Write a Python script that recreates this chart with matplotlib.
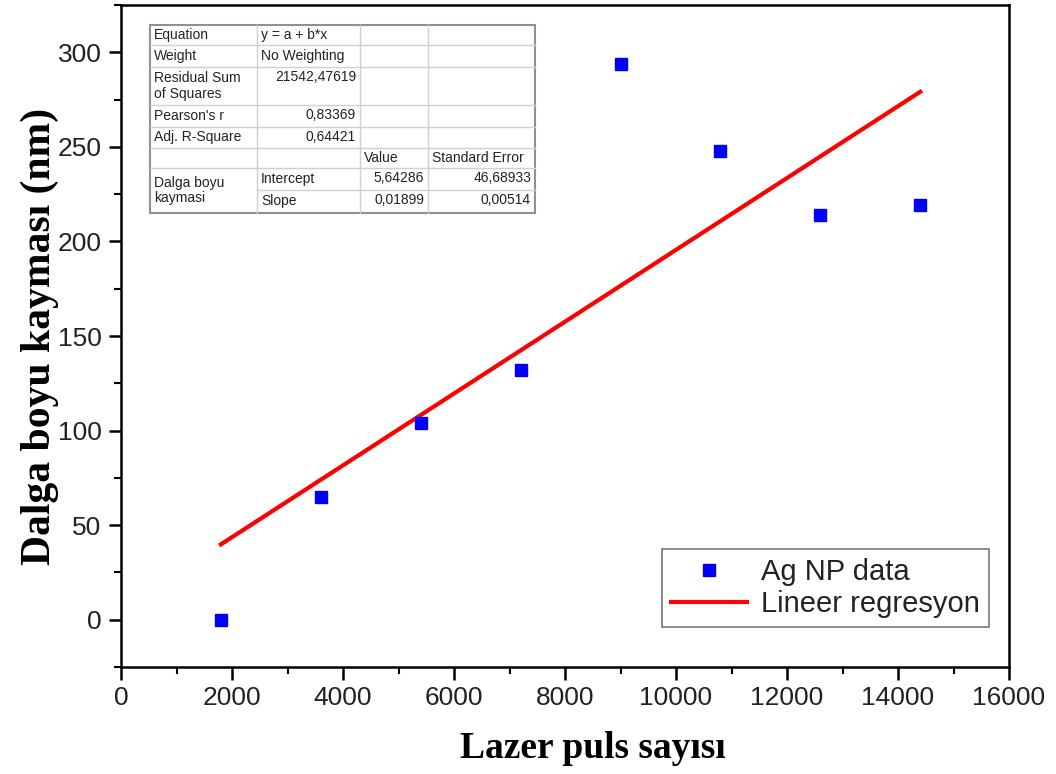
import numpy as np
import matplotlib
matplotlib.use('Agg')
import matplotlib.pyplot as plt
from matplotlib.lines import Line2D
from matplotlib.ticker import MultipleLocator

# data
pulses = [1800, 3600, 5400, 7200, 9000, 10800, 12600, 14400]
shift = [0, 65, 104, 132, 294, 248, 214, 219]
intercept = 5.64286
slope = 0.01899

# fit table (Origin style)
table_rows = [
    ["Equation", "y = a + b*x", "", ""],
    ["Weight", "No Weighting", "", ""],
    ["Residual Sum\nof Squares", "21542,47619", "", ""],
    ["Pearson's r", "0,83369", "", ""],
    ["Adj. R-Square", "0,64421", "", ""],
    ["", "", "Value", "Standard Error"],
    ["Dalga boyu\nkaymasi", "Intercept", "5,64286", "46,68933"],
    ["", "Slope", "0,01899", "0,00514"],
]

W, H = 1056, 774
fig = plt.figure(figsize=(W / 100, H / 100), dpi=100)
ax = fig.add_axes([121 / W, 1 - 667 / H, (1009 - 121) / W, (667 - 5) / H])

ax.plot(pulses, shift, 's', color='#0000ff', markersize=8.5, label='Ag NP data', zorder=3)
xfit = np.array([pulses[0], pulses[-1]])
ax.plot(xfit, intercept + slope * xfit, color='#ff0000', lw=3, label='Lineer regresyon')

ax.set_xlim(0, 16000)
ax.set_ylim(-25, 325)
ax.xaxis.set_major_locator(MultipleLocator(2000))
ax.xaxis.set_minor_locator(MultipleLocator(1000))
ax.yaxis.set_major_locator(MultipleLocator(50))
ax.yaxis.set_minor_locator(MultipleLocator(25))
ax.tick_params(which='major', direction='out', length=9, width=1.8, labelsize=19, pad=5)
ax.tick_params(which='minor', direction='out', length=5, width=1.5)
ax.tick_params(top=False, right=False)
for lab in ax.get_xticklabels() + ax.get_yticklabels():
    lab.set_fontfamily('Liberation Sans')
    lab.set_color('#222222')
for s in ax.spines.values():
    s.set_linewidth(1.8)

ax.set_xlabel('Lazer puls sayısı', fontfamily='Liberation Serif', fontweight='bold', fontsize=27)
ax.xaxis.set_label_coords((593 - 121) / 888, -0.097)
ax.set_ylabel('Dalga boyu kayması (nm)', fontfamily='Liberation Serif', fontweight='bold', fontsize=30, labelpad=-1)

leg = ax.legend(loc='lower right', bbox_to_anchor=(989 / W, 1 - 627 / H), bbox_transform=fig.transFigure,
                prop={'family': 'Liberation Sans', 'size': 21}, frameon=True, fancybox=False,
                borderaxespad=0, handlelength=2.6, borderpad=0.3, labelspacing=0.15, handletextpad=0.5)
leg.get_frame().set_edgecolor('#555555')
leg.get_frame().set_linewidth(1.2)
for t in leg.get_texts():
    t.set_color('#222222')

# table drawn in figure pixel coordinates
def fx(x):
    return x / W

def fy(y):
    return 1 - y / H

row_y = [25, 45, 67, 105, 127, 148, 168, 190, 213]
col_x = [150, 257, 360, 428, 535]
light = '#d0d0d0'
fig.patches.append(plt.Rectangle((fx(150), fy(213)), fx(535 - 150), (213 - 25) / H,
                                 transform=fig.transFigure, facecolor='white', edgecolor='#909090', lw=1.5, zorder=5))
for i, y in enumerate(row_y[1:-1], start=1):
    x0 = col_x[1] if i == 7 else col_x[0]
    fig.add_artist(Line2D([fx(x0), fx(col_x[-1])], [fy(y), fy(y)], color=light, lw=1, zorder=6))
for x in col_x[1:-1]:
    fig.add_artist(Line2D([fx(x), fx(x)], [fy(25), fy(213)], color=light, lw=1, zorder=6))

tkw = dict(fontsize=10, fontfamily='Liberation Sans', color='#222222', zorder=7, transform=fig.transFigure)
for r, row in enumerate(table_rows):
    top, bot = row_y[r], row_y[r + 1]
    for c, txt in enumerate(row):
        if not txt:
            continue
        if r == 6 and c == 0:
            bot = row_y[8]
        left_align = c == 0 or txt in ("y = a + b*x", "No Weighting", "Intercept", "Slope",
                                        "Value", "Standard Error")
        if left_align:
            fig.text(fx(col_x[c] + 4), fy((top + bot) / 2), txt, ha='left', va='center',
                     linespacing=1.1, **tkw)
        else:
            fig.text(fx(col_x[c + 1] - 4), fy(top + 10), txt, ha='right', va='center', **tkw)
        bot = row_y[r + 1]

fig.savefig('out.png', dpi=100)
